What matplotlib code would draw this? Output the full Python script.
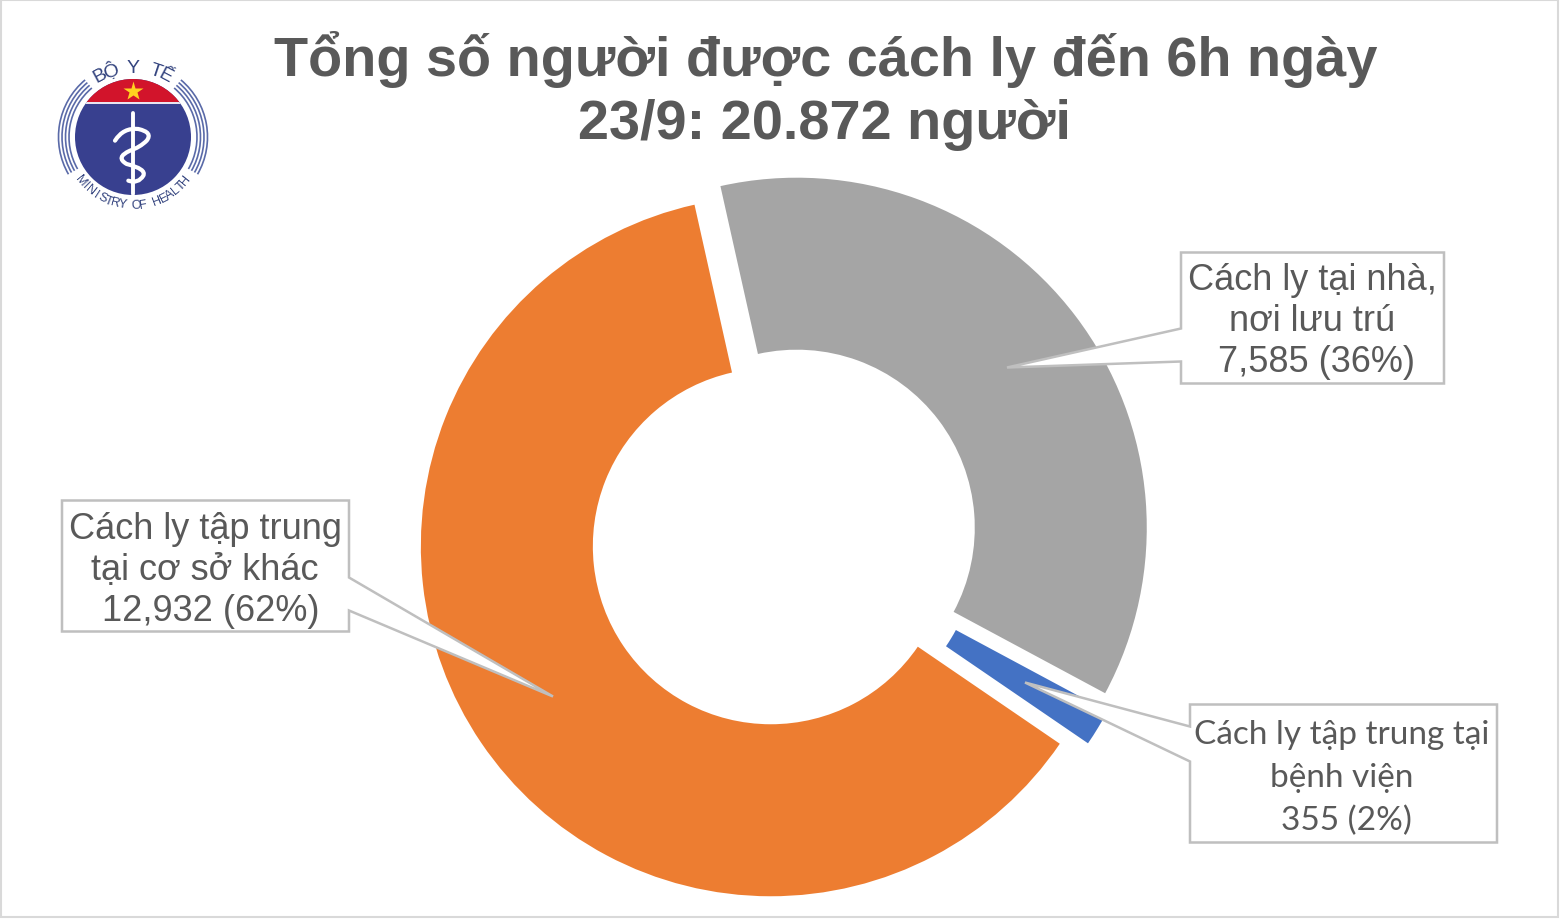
import matplotlib
matplotlib.use('Agg')
import matplotlib.pyplot as plt
from matplotlib.patches import Circle, Arc, Polygon, Rectangle, PathPatch
from matplotlib.path import Path
import numpy as np

# ── DATA ──────────────────────────────────────────────────────────────────────
title_lines = ['Tổng số người được cách ly đến 6h ngày', '23/9: 20.872 người']
categories = ['Cách ly tại nhà, nơi lưu trú', 'Cách ly tập trung tại bệnh viện', 'Cách ly tập trung tại cơ sở khác']
values = [7585, 355, 12932]
colors = ['#A5A5A5', '#4472C4', '#ED7D31']

label_home = ['Cách ly tại nhà,', 'nơi lưu trú', '7,585 (36%)']
label_hosp = ['Cách ly tập trung tại', 'bệnh viện', '355 (2%)']
label_camp = ['Cách ly tập trung', 'tại cơ sở khác', '12,932 (62%)']

TEXT = '#595959'
EDGE = '#BFBFBF'
ARIAL = ['Liberation Sans', 'DejaVu Sans']
CALIBRI = ['Lato', 'Noto Sans', 'DejaVu Sans']

fig = plt.figure(figsize=(15.6, 9.2), dpi=100, facecolor='white')

# ── DONUT ─────────────────────────────────────────────────────────────────────
ax_pie = fig.add_axes([0, 0, 1, 1])
ax_pie.pie(values, colors=colors, startangle=102.6, counterclock=False,
           radius=350, center=(784.5, 920 - 538), explode=[15.4, 17, 16.5],
           wedgeprops={'width': 172, 'linewidth': 0})
ax_pie.set_xlim(0, 1560)
ax_pie.set_ylim(0, 920)
ax_pie.set_aspect('equal')
ax_pie.axis('off')

# overlay in image pixels, y going down
ax = fig.add_axes([0, 0, 1, 1], facecolor='none')
ax.set_xlim(0, 1560)
ax.set_ylim(920, 0)
ax.axis('off')

# thin frame of the slide
ax.add_patch(Rectangle((0.5, 0.5), 1557, 917, fill=False, ec='#D9D9D9', lw=1.5))

# ── TITLE ─────────────────────────────────────────────────────────────────────
ax.text(826, 60, title_lines[0], family=ARIAL, fontweight='bold', fontsize=40.2,
        color=TEXT, ha='center', va='center')
ax.text(825, 125, title_lines[1], family=ARIAL, fontweight='bold', fontsize=40.2,
        color=TEXT, ha='center', va='center')


# ── CALLOUTS ──────────────────────────────────────────────────────────────────
def callout(pts, lines, xs, ys, family, size):
    ax.add_patch(Polygon(pts, closed=True, fc='white', ec=EDGE, lw=1.8, joinstyle='miter'))
    for line, x, y in zip(lines, xs, ys):
        ax.text(x, y, line, family=family, fontsize=size, color=TEXT, ha='center', va='center')


callout([(1181, 253.5), (1444, 253.5), (1444, 384.5), (1181, 384.5), (1181, 362.5), (1007, 368.5), (1181, 329.5)],
        label_home, [1312, 1312, 1317], [281, 322, 363], ARIAL, 26)
callout([(62, 501.5), (349, 501.5), (349, 578.5), (553, 697.5), (349, 611.5), (349, 632.5), (62, 632.5)],
        label_camp, [205, 205, 211], [530, 571, 612], ARIAL, 26)
callout([(1190, 705.5), (1497, 705.5), (1497, 843.5), (1190, 843.5), (1190, 762.5), (1025, 683.5), (1190, 727.5)],
        label_hosp, [1342, 1342, 1346], [735, 778, 821], CALIBRI, 24)

# ── LOGO ──────────────────────────────────────────────────────────────────────
LX, LY, LR = 133, 138, 58
NAVY = '#38408F'
disc = Circle((LX, LY), LR, fc=NAVY, ec='none')
ax.add_patch(disc)
red = Rectangle((LX - LR, LY - LR), 2 * LR, 23, fc='#D2142B', ec='none')
ax.add_patch(red)
red.set_clip_path(disc)
gap = Rectangle((LX - LR, LY - LR + 23), 2 * LR, 2, fc='#E8E4F0', ec='none')
ax.add_patch(gap)
gap.set_clip_path(disc)
ax.plot([LX], [92], marker='*', ms=15, color='#FFD21F', mec='none')

# y axis points down here, so Arc angles run clockwise on screen
for r in [64, 67.5, 71, 74.5]:
    ax.add_patch(Arc((LX, LY), 2 * r, 2 * r, theta1=-50, theta2=30, ec='#5A6AA8', lw=1.2))
    ax.add_patch(Arc((LX, LY), 2 * r, 2 * r, theta1=150, theta2=230, ec='#5A6AA8', lw=1.2))

# staff and snake, points read in the 3x crop of the logo
ax.plot([LX, LX], [114, 195], color='white', lw=2.8, solid_capstyle='round')
snake = np.array([(225, 275), (250, 235), (295, 240), (340, 250), (320, 275), (300, 295), (270, 305),
                  (225, 325), (260, 345), (320, 360), (310, 380), (295, 405), (265, 395)], dtype=float)
snake = snake / 3 + [40, 50]
codes = [Path.MOVETO] + [Path.CURVE3] * (len(snake) - 1)
ax.add_patch(PathPatch(Path(snake, codes), fc='none', ec='white', lw=3, capstyle='round'))


def arc_text(text, radius, start, step, top=True, size=10):
    # one glyph at a time along the ring, angles in degrees from the top, clockwise
    for i, ch in enumerate(text):
        a = start + step * i
        t = np.radians(a)
        x = LX + radius * np.sin(t)
        y = LY - radius * np.cos(t)
        rot = -a if top else 180 - a
        ax.text(x, y, ch, family=ARIAL, fontsize=size, color='#34447F',
                ha='center', va='center', rotation=rot, rotation_mode='anchor')


arc_text('BỘ Y TẾ', 70, -28, 9.3, top=True, size=14)
arc_text('MINISTRY OF HEALTH', 68, 231, -6, top=False, size=9)

plt.savefig('out.png', dpi=100)
